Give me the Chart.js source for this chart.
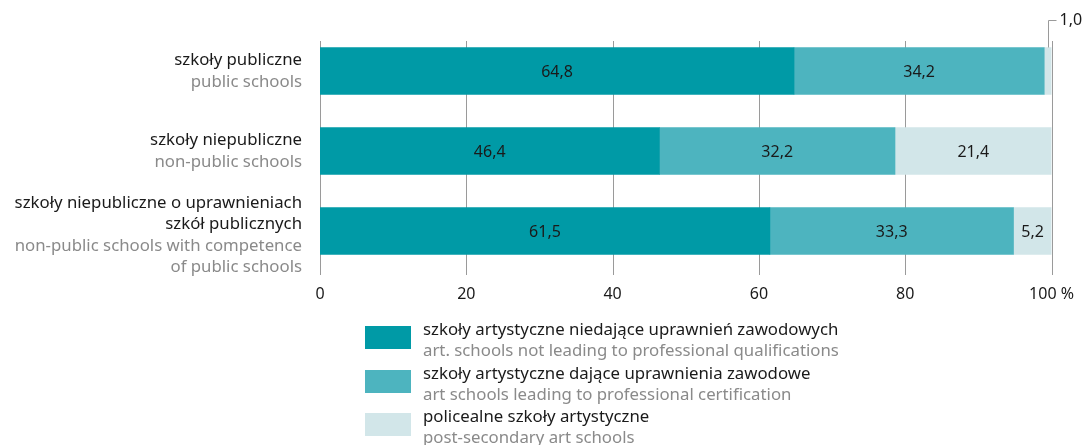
<!DOCTYPE html>
<html>
<head>
<meta charset="utf-8">
<script src="https://cdn.jsdelivr.net/npm/chart.js@4/dist/chart.umd.min.js"></script>
<style>
  html, body { margin: 0; padding: 0; background: #fff; }
  #wrap { width: 1088px; height: 445px; }
</style>
</head>
<body>
<div id="wrap"><canvas id="artChart" width="1088" height="445"></canvas></div>
<script>
// categories (Polish + English lines)
const categoriesPl = [
  ["szkoły publiczne"],
  ["szkoły niepubliczne"],
  ["szkoły niepubliczne o uprawnieniach", "szkół publicznych"],
];
const categoriesEn = [
  ["public schools"],
  ["non-public schools"],
  ["non-public schools with competence", "of public schools"],
];

// series values, %
const notQualifying = [64.8, 46.4, 61.5];
const qualifying = [34.2, 32.2, 33.3];
const postSecondary = [1.0, 21.4, 5.2];

const legendPl = [
  "szkoły artystyczne niedające uprawnień zawodowych",
  "szkoły artystyczne dające uprawnienia zawodowe",
  "policealne szkoły artystyczne",
];
const legendEn = [
  "art. schools not leading to professional qualifications",
  "art schools leading to professional certification",
  "post-secondary art schools",
];

const xTicks = [0, 20, 40, 60, 80, 100];

const FONT = "'Noto Sans', sans-serif";
const BLACK = "#1a1a1a";
const GREY = "#8a8a8a";
const colors = ["#009aa6", "#4db4bf", "#d2e6e9"];

// grid lines + left axis line, drawn behind the bars
const gridPlugin = {
  id: "gridLines",
  beforeDatasetsDraw(chart) {
    const { ctx, scales: { x } } = chart;
    ctx.save();
    ctx.strokeStyle = "#9a9a9a";
    ctx.lineWidth = 1;
    xTicks.forEach((t) => {
      const px = Math.round(x.getPixelForValue(t)) + 0.5;
      ctx.beginPath();
      ctx.moveTo(px, 41);
      ctx.lineTo(px, 275);
      ctx.stroke();
    });
    ctx.restore();
  },
};

// category labels, value labels, small-value callout and legend
const textPlugin = {
  id: "texts",
  afterDatasetsDraw(chart) {
    const { ctx, scales: { x, y } } = chart;
    ctx.save();
    ctx.font = "16.8px " + FONT;

    // category labels on the left
    ctx.textAlign = "right";
    ctx.textBaseline = "middle";
    categoriesPl.forEach((pl, i) => {
      const lines = pl.map((t) => [t, BLACK]).concat(categoriesEn[i].map((t) => [t, GREY]));
      const lh = 21.5;
      const cy = y.getPixelForValue(i);
      const top = cy - ((lines.length - 1) * lh) / 2 + (lines.length > 2 ? 4 : 0);
      lines.forEach(([t, c], k) => {
        ctx.fillStyle = c;
        ctx.fillText(t, 302, top + k * lh);
      });
    });

    // values inside the segments
    ctx.font = "16px " + FONT;
    ctx.textAlign = "center";
    ctx.fillStyle = BLACK;
    chart.data.datasets.forEach((ds, di) => {
      const meta = chart.getDatasetMeta(di);
      meta.data.forEach((bar, i) => {
        const v = ds.data[i];
        const label = v.toFixed(1).replace(".", ",");
        if (v >= 3) {
          const cx = (bar.x + bar.base) / 2;
          ctx.fillText(label, cx, bar.y + 1);
        } else {
          const cx = Math.round((bar.x + bar.base) / 2) + 0.5;
          const top = bar.y - bar.height / 2;
          ctx.strokeStyle = "#9a9a9a";
          ctx.beginPath();
          ctx.moveTo(cx, top);
          ctx.lineTo(cx, 20.5);
          ctx.lineTo(cx + 8, 20.5);
          ctx.stroke();
          ctx.textAlign = "left";
          ctx.fillText(label, cx + 11, 20);
          ctx.textAlign = "center";
        }
      });
    });

    // legend
    ctx.font = "16.8px " + FONT;
    ctx.textAlign = "left";
    const legTops = [326, 370, 413];
    legendPl.forEach((t, i) => {
      ctx.fillStyle = colors[i];
      ctx.fillRect(365, legTops[i], 46, 23);
      ctx.fillStyle = BLACK;
      ctx.fillText(t, 423, legTops[i] + 4);
      ctx.fillStyle = GREY;
      ctx.fillText(legendEn[i], 423, legTops[i] + 25);
    });
    ctx.restore();
  },
};

const ctx = document.getElementById("artChart").getContext("2d");

new Chart(ctx, {
  type: "bar",
  data: {
    labels: categoriesPl.map((l) => l.join(" ")),
    datasets: [
      { label: legendPl[0], data: notQualifying, backgroundColor: colors[0] },
      { label: legendPl[1], data: qualifying, backgroundColor: colors[1] },
      { label: legendPl[2], data: postSecondary, backgroundColor: colors[2] },
    ],
  },
  options: {
    indexAxis: "y",
    responsive: false,
    animation: false,
    layout: { padding: { left: 320, right: 31, top: 31, bottom: 0 } },
    datasets: { bar: { barThickness: 47 } },
    plugins: {
      legend: { display: false },
      tooltip: { enabled: false },
    },
    scales: {
      x: {
        stacked: true,
        min: 0,
        max: 100,
        afterBuildTicks: (s) => { s.ticks = xTicks.map((v) => ({ value: v })); },
        afterFit: (s) => { s.height = 174; },
        grid: { display: false, drawTicks: false },
        border: { display: false },
        ticks: {
          padding: 14,
          color: BLACK,
          font: { family: FONT, size: 16 },
          callback: (v) => (v === 100 ? "100 %" : v),
          maxRotation: 0,
        },
      },
      y: {
        stacked: true,
        afterFit: (s) => { s.width = 0; },
        grid: { display: false },
        border: { display: false },
        ticks: { display: false },
      },
    },
  },
  plugins: [gridPlugin, textPlugin],
});
</script>
</body>
</html>
